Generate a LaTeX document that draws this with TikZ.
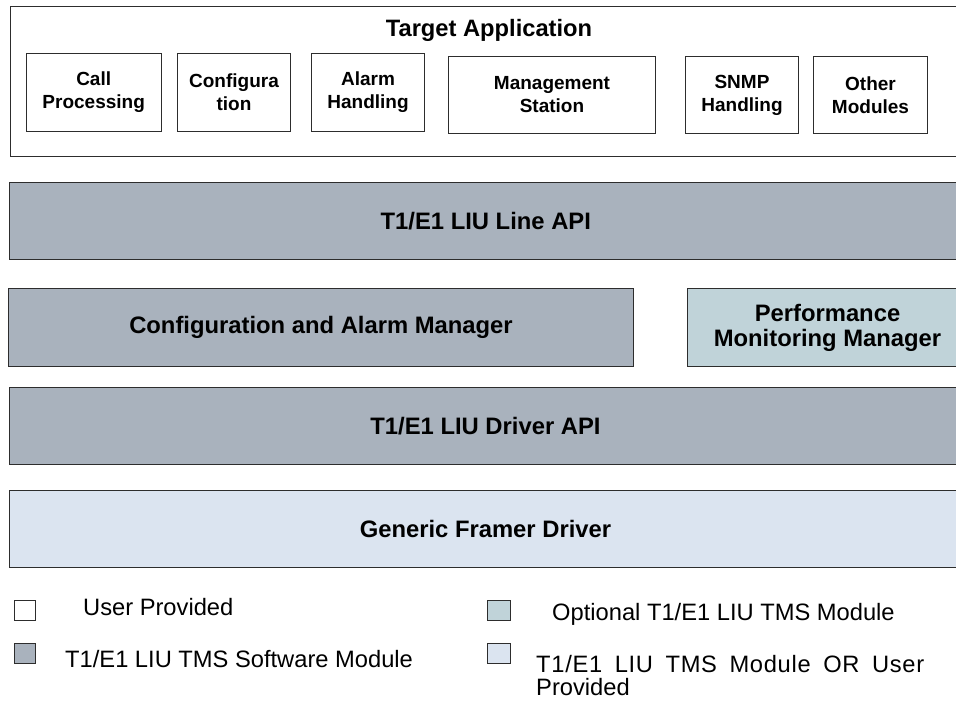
\documentclass[tikz,border=0pt]{standalone}
\usepackage{fontspec}
\setmainfont{Liberation Sans}
\definecolor{bordercol}{RGB}{45,45,45}
\definecolor{bandcol}{RGB}{169,178,189}
\definecolor{perfcol}{RGB}{192,211,217}
\definecolor{gencol}{RGB}{219,228,240}
\begin{document}
\begin{tikzpicture}[x=1pt,y=-1pt,
  box/.style={draw=bordercol, line width=1pt, inner sep=0pt, anchor=north west, align=center},
  modbox/.style={box, fill=white, font=\fontsize{19}{23}\selectfont\bfseries},
  band/.style={box, fill=bandcol, font=\fontsize{23.8}{25}\selectfont\bfseries},
  legsq/.style={draw=bordercol, line width=1pt, inner sep=0pt, anchor=north west, minimum width=21pt, minimum height=20pt},
  legtext/.style={anchor=base west, inner sep=0pt, align=left, font=\fontsize{23.7}{23}\selectfont}
]
\useasboundingbox (0,0) rectangle (956,703);
\clip (0,0) rectangle (956,703);
\fill[white] (0,0) rectangle (956,703);

% Target application
\node[box, fill=white, minimum width=960pt, minimum height=150pt] (app) at (9.5,6) {};
\node[anchor=base, inner sep=0pt, font=\fontsize{23.7}{26}\selectfont\bfseries] (title) at (489,36.7) {Target Application};
\node[modbox, minimum width=135pt, minimum height=78pt] (cp) at (25.7,53) {Call\\Processing};
\node[modbox, minimum width=113pt, minimum height=78pt] (conf) at (177,53) {Configura\\tion};
\node[modbox, minimum width=113pt, minimum height=78pt] (alarm) at (311,53) {Alarm\\Handling};
\node[modbox, minimum width=207pt, minimum height=77pt] (mgmt) at (448,56) {Management\\Station};
\node[modbox, minimum width=113pt, minimum height=77pt] (snmp) at (685,56) {SNMP\\Handling};
\node[modbox, minimum width=114pt, minimum height=77pt] (other) at (813,56) {Other\\Modules};

% Layers
\node[band, minimum width=952pt, minimum height=77.3pt] (lineapi) at (9.3,181.7) {T1/E1 LIU Line API};
\node[band, minimum width=625pt, minimum height=78pt] (cam) at (8,288) {Configuration and Alarm Manager};
\node[band, fill=perfcol, minimum width=280pt, minimum height=78pt] (pmm) at (687,288) {Performance\\Monitoring Manager};
\node[band, minimum width=952pt, minimum height=77pt] (drv) at (9,387) {T1/E1 LIU Driver API};
\node[band, fill=gencol, minimum width=952pt, minimum height=77pt] (gen) at (9,490) {Generic Framer Driver};

% Legend
\node[legsq, fill=white] (sq1) at (14,600) {};
\node[legsq, fill=bandcol] (sq2) at (14,643) {};
\node[legsq, fill=perfcol, minimum width=23pt] (sq3) at (487,600) {};
\node[legsq, fill=gencol, minimum width=23pt] (sq4) at (487,643) {};
\node[legtext] (t1) at (83,615) {User Provided};
\node[legtext] (t2) at (65,667) {T1/E1 LIU TMS Software Module};
\node[legtext] (t3) at (552,620) {Optional T1/E1 LIU TMS Module};
\node[legtext] (t4) at (536,695) {\makebox[388pt][s]{\addfontfeature{LetterSpace=3}T1/E1 LIU TMS Module OR User}\\Provided};
\end{tikzpicture}
\end{document}
